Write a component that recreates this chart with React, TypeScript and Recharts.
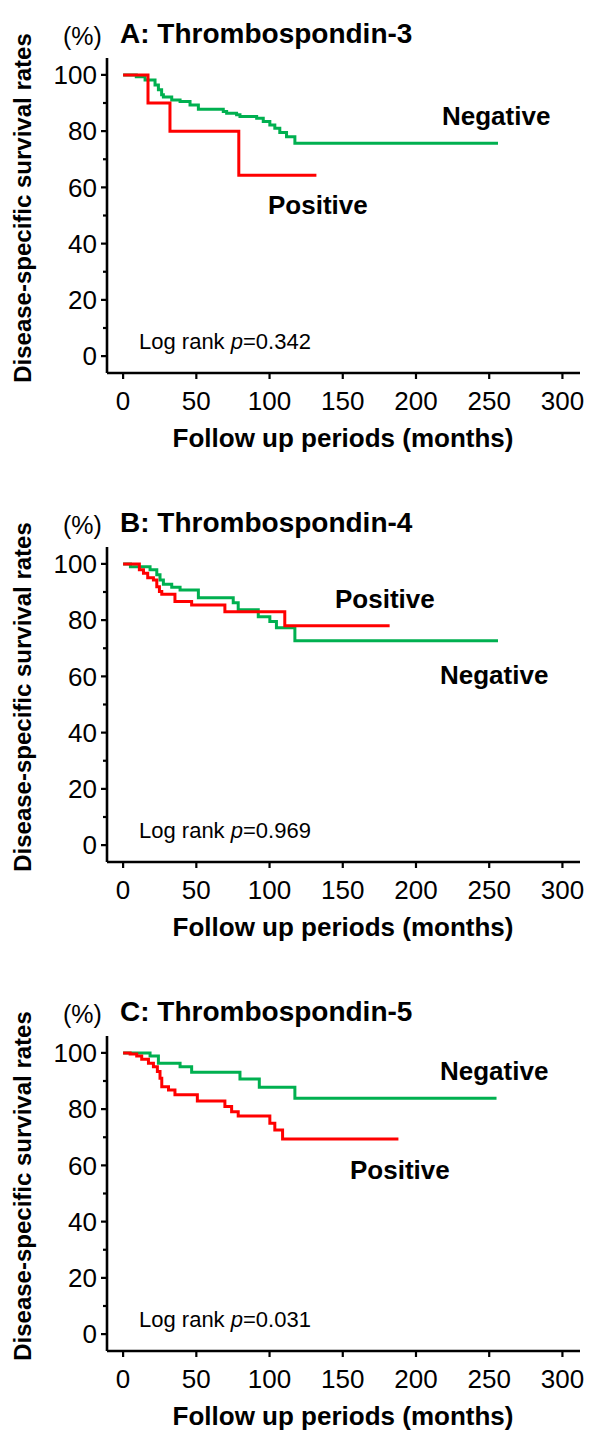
import React from "react";
import { LineChart, Line, XAxis, YAxis } from "recharts";

// ---------- DATA ----------
const xTicks = [0, 50, 100, 150, 200, 250, 300];
const yTicks = [0, 10, 20, 30, 40, 50, 60, 70, 80, 90, 100];
const yLabelTicks = [0, 20, 40, 60, 80, 100];

// Panel A: Thrombospondin-3
const negMonthsA = [0, 9, 15, 21.8, 24.1, 26.3, 27.5, 33.2, 38.9, 45.7, 51.4, 68.4, 70.7, 77.5, 79.8, 91.2, 95.7, 100.2, 103.6, 107, 111.6, 117.3, 256];
const negSurvA = [100, 99.3, 98.2, 96.4, 94.7, 92.9, 92.1, 91.1, 90.5, 89.3, 87.8, 87.0, 86.4, 85.8, 85.2, 84.6, 83.4, 82.2, 81.0, 79.5, 78.0, 75.7, 75.7];
const posMonthsA = [0, 17, 32, 79, 132];
const posSurvA = [100, 90, 80, 64.3, 64.3];

// Panel B: Thrombospondin-4
const negMonthsB = [0, 5, 18.4, 23, 25.2, 27.5, 33.2, 38.9, 51.4, 75.2, 78.6, 92.3, 100.2, 104.7, 117.3, 256];
const negSurvB = [100, 99.0, 97.9, 96.1, 94.3, 92.8, 91.7, 90.7, 88.0, 86.2, 83.7, 81.2, 79.5, 77.3, 72.7, 72.7];
const posMonthsB = [0, 11.1, 13.9, 16.8, 20.7, 23, 24.8, 26.4, 35.4, 46.8, 69.5, 110.4, 182];
const posSurvB = [100, 97.9, 96.7, 95.1, 94.3, 91.9, 90.2, 89.2, 86.6, 85.4, 83.0, 78.0, 78.0];

// Panel C: Thrombospondin-5
const negMonthsC = [0, 18.4, 24.1, 38.9, 46.8, 79.8, 93, 117.3, 255];
const negSurvC = [100, 98.9, 96.3, 95.1, 93.1, 90.7, 87.8, 83.9, 83.9];
const posMonthsC = [0, 4.8, 9.3, 12.7, 17.3, 20.7, 23.4, 25.2, 26.4, 31, 35.4, 50.7, 69.5, 74.1, 78.6, 100.2, 103.6, 108.9, 188];
const posSurvC = [100, 99.6, 98.9, 97.7, 96.3, 95.1, 93.4, 91.0, 88.0, 86.8, 85.1, 82.9, 80.9, 79.1, 77.6, 75.0, 72.6, 69.4, 69.4];

const titles = ["A: Thrombospondin-3", "B: Thrombospondin-4", "C: Thrombospondin-5"];
const pValues = ["0.342", "0.969", "0.031"];
const xAxisTitle = "Follow up periods (months)";
const yAxisTitle = "Disease-specific survival rates";

// ---------- STYLE ----------
const FONT = "'Liberation Sans', Arial, Helvetica, sans-serif";
const RED = "#FF0000";
const GREEN = "#00B050";

const toPoints = (xs: number[], ys: number[]) => xs.map((x, i) => ({ x, y: ys[i] }));

const YTick = (props: any) => {
  const { x, y, payload } = props;
  const major = yLabelTicks.includes(payload.value);
  return (
    <g>
      <line x1={x - (major ? 6 : 4)} x2={x} y1={y} y2={y} stroke="#000" strokeWidth={2.2} />
      {major && (
        <text x={x - 10} y={y} dy="0.36em" textAnchor="end" fontSize={26} fontFamily={FONT} fill="#000">
          {payload.value}
        </text>
      )}
    </g>
  );
};

type PanelProps = {
  height: number;
  title: string;
  pValue: string;
  neg: { x: number; y: number }[];
  pos: { x: number; y: number }[];
  negLabel: [number, number];
  posLabel: [number, number];
};

const Panel = ({ height, title, pValue, neg, pos, negLabel, posLabel }: PanelProps) => {
  const xAxisH = 86;
  return (
    <div style={{ position: "relative", width: 600, height }}>
      <LineChart
        width={600}
        height={height}
        margin={{ top: 58, right: 20, left: 0, bottom: height - 373 - xAxisH }}
      >
        <XAxis
          dataKey="x"
          type="number"
          domain={[-11, 312]}
          allowDataOverflow
          ticks={xTicks}
          interval={0}
          height={xAxisH}
          tickSize={6}
          tickMargin={13}
          axisLine={{ stroke: "#000", strokeWidth: 2.6 }}
          tickLine={{ stroke: "#000", strokeWidth: 2.2 }}
          tick={{ fill: "#000", fontSize: 26, fontFamily: FONT }}
        />
        <YAxis
          type="number"
          domain={[-6, 106]}
          allowDataOverflow
          ticks={yTicks}
          interval={0}
          width={107}
          tickSize={0}
          tickMargin={0}
          tickLine={false}
          axisLine={{ stroke: "#000", strokeWidth: 2.6 }}
          tick={<YTick />}
        />
        <Line
          data={neg}
          dataKey="y"
          type="stepAfter"
          stroke={GREEN}
          strokeWidth={3}
          dot={false}
          isAnimationActive={false}
        />
        <Line
          data={pos}
          dataKey="y"
          type="stepAfter"
          stroke={RED}
          strokeWidth={3}
          dot={false}
          isAnimationActive={false}
        />
      </LineChart>
      <svg
        width={600}
        height={height}
        style={{ position: "absolute", left: 0, top: 0, pointerEvents: "none" }}
        fontFamily={FONT}
      >
        <text x={63} y={45} fontSize={25} fill="#000">(%)</text>
        <text x={120} y={43} fontSize={28} fontWeight="bold" fill="#000">{title}</text>
        <text
          x={31}
          y={208}
          fontSize={24}
          fontWeight="bold"
          fill="#000"
          textAnchor="middle"
          transform="rotate(-90 31 208)"
        >
          {yAxisTitle}
        </text>
        <text x={343} y={447} fontSize={26} fontWeight="bold" fill="#000" textAnchor="middle">
          {xAxisTitle}
        </text>
        <text x={139} y={349} fontSize={22} fill="#000">
          Log rank <tspan fontStyle="italic">p</tspan>={pValue}
        </text>
        <text x={negLabel[0]} y={negLabel[1]} fontSize={26} fontWeight="bold" fill="#000">Negative</text>
        <text x={posLabel[0]} y={posLabel[1]} fontSize={26} fontWeight="bold" fill="#000">Positive</text>
      </svg>
    </div>
  );
};

export default function App() {
  return (
    <div style={{ position: "absolute", left: 0, top: 0, width: 600, height: 1437, background: "#fff", overflow: "hidden" }}>
      <Panel
        height={489}
        title={titles[0]}
        pValue={pValues[0]}
        neg={toPoints(negMonthsA, negSurvA)}
        pos={toPoints(posMonthsA, posSurvA)}
        negLabel={[442, 125]}
        posLabel={[268, 214]}
      />
      <Panel
        height={489}
        title={titles[1]}
        pValue={pValues[1]}
        neg={toPoints(negMonthsB, negSurvB)}
        pos={toPoints(posMonthsB, posSurvB)}
        negLabel={[440, 195]}
        posLabel={[335, 119]}
      />
      <Panel
        height={459}
        title={titles[2]}
        pValue={pValues[2]}
        neg={toPoints(negMonthsC, negSurvC)}
        pos={toPoints(posMonthsC, posSurvC)}
        negLabel={[440, 102]}
        posLabel={[350, 201]}
      />
    </div>
  );
}
